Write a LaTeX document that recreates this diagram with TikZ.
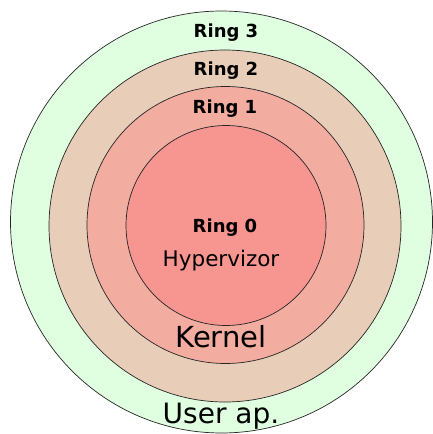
\documentclass[tikz,border=0pt]{standalone}
\usepackage{fontspec}
\setmainfont{DejaVu Sans}
\definecolor{userbg}{RGB}{224,255,224}
\definecolor{ringtwo}{RGB}{232,206,184}
\definecolor{ringone}{RGB}{243,172,160}
\definecolor{ringzero}{RGB}{247,150,145}
\tikzset{
  ringline/.style={draw=black!85,line width=0.7pt},
  ringlabel/.style={anchor=base,inner sep=0pt,font=\fontsize{18}{18}\selectfont\bfseries},
  biglabel/.style={anchor=base,inner sep=0pt,font=\fontsize{28}{28}\selectfont}
}
\begin{document}
\begin{tikzpicture}[x=1pt,y=-1pt]
\useasboundingbox (0,0) rectangle (433,434);
\fill[white] (0,0) rectangle (433,434);
\filldraw[ringline,fill=userbg] (221.5,222) circle [radius=211pt];
\filldraw[ringline,fill=ringtwo] (225,226) circle [radius=176pt];
\filldraw[ringline,fill=ringone] (225.5,225) circle [radius=138.5pt];
\filldraw[ringline,fill=ringzero] (226,225.5) circle [radius=100pt];
\node [ringlabel] (r3) at (226,37) {Ring 3};
\node [ringlabel] (r2) at (226,75) {Ring 2};
\node [ringlabel] (r1) at (225,113) {Ring 1};
\node [ringlabel] (r0) at (225,232) {Ring 0};
\node [anchor=base,inner sep=0pt,font=\fontsize{21.5}{21.5}\selectfont] (hyp) at (221,266) {Hypervizor};
\node [biglabel,font=\fontsize{29}{29}\selectfont] (kern) at (221,347) {Kernel};
\node [biglabel] (user) at (221,423) {User ap.};
\end{tikzpicture}
\end{document}
